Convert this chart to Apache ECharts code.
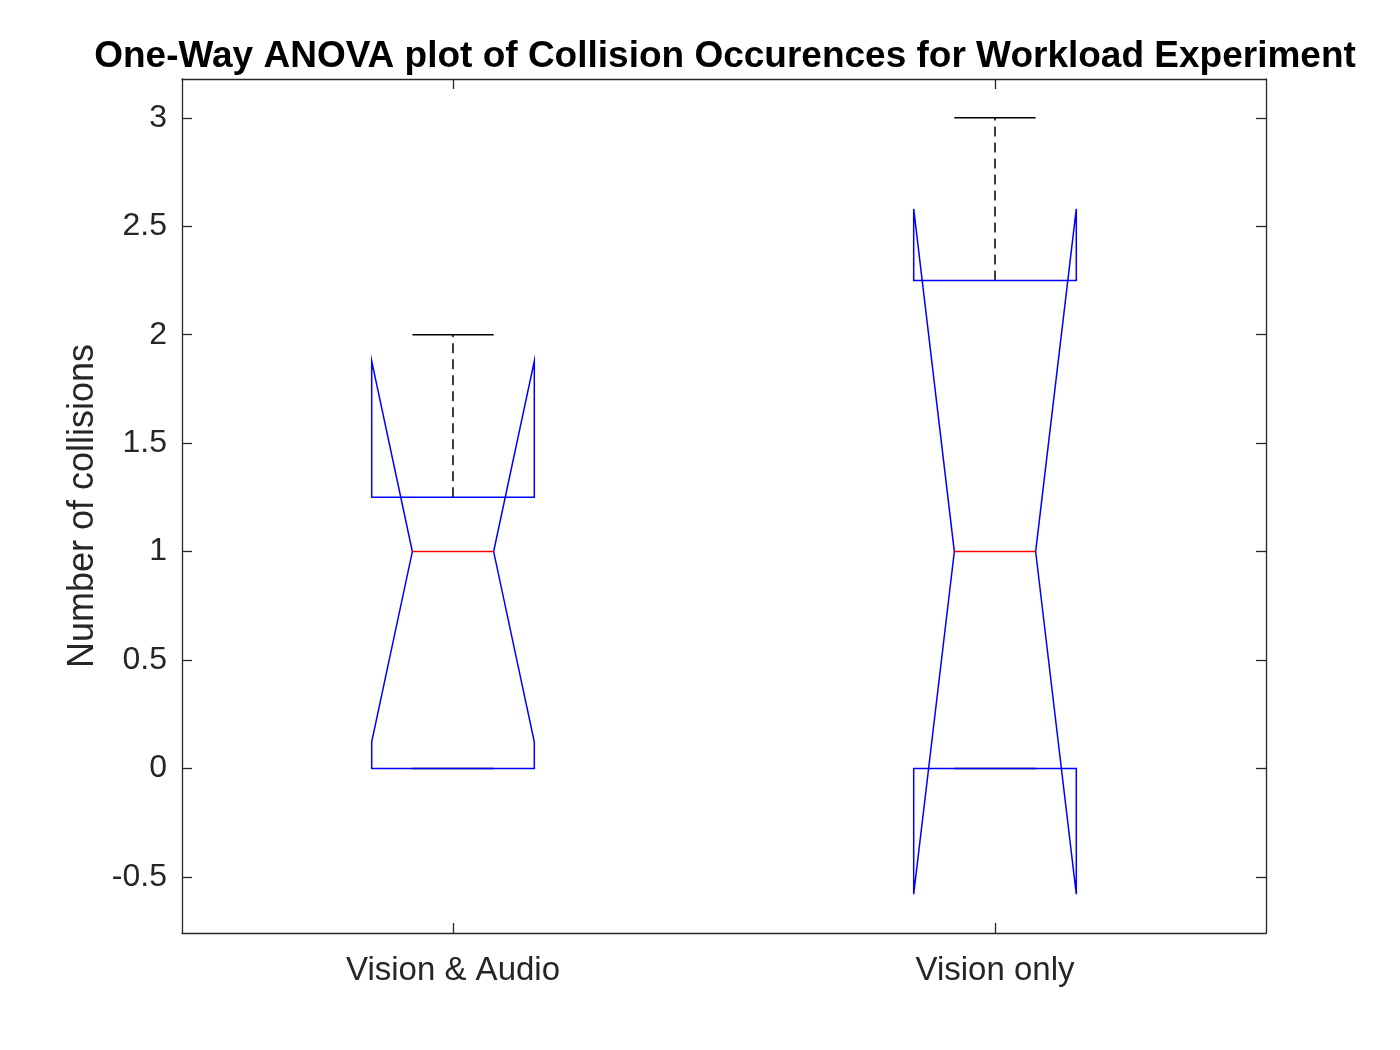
<!DOCTYPE html>
<html>
<head>
<meta charset="utf-8">
<script src="https://cdn.jsdelivr.net/npm/echarts@6/dist/echarts.min.js"></script>
<style>html,body{margin:0;padding:0;background:#fff}#c{width:1400px;height:1050px}</style>
</head>
<body>
<div id="c"></div>
<script>
// ---- data ----
const categories   = ['Vision & Audio', 'Vision only'];
const lowerWhisker = [0, 0];
const q1           = [0, 0];
const median       = [1, 1];
const q3           = [1.25, 2.25];
const upperWhisker = [2, 3];
const notchLow     = [0.122, -0.58];
const notchHigh    = [1.878, 2.58];
const yTicks       = [-0.5, 0, 0.5, 1, 1.5, 2, 2.5, 3];
const yMin = -0.759, yMax = 3.179;

const FONT = '"Liberation Sans", Arial, Helvetica, sans-serif';
const TXT = '#262626';

const boxData = categories.map((c, i) => [i, lowerWhisker[i], q1[i], median[i], q3[i], upperWhisker[i], notchLow[i], notchHigh[i]]);

function renderBox(params, api) {
  const idx = api.value(0);
  const lw = api.value(1), b1 = api.value(2), md = api.value(3), b3 = api.value(4), uw = api.value(5), nl = api.value(6), nh = api.value(7);
  const band = api.size([1, 0])[0];
  const w = band * 0.15;
  const cx = api.coord([idx, md])[0];
  const y = v => api.coord([idx, v])[1];
  const blue = '#0000ff';
  const lw1 = 1.5;
  const children = [
    // whiskers (dashed)
    {type: 'line', shape: {x1: cx, y1: y(b3), x2: cx, y2: y(uw)}, style: {stroke: '#000', lineWidth: lw1, lineDash: [10, 6]}},
    {type: 'line', shape: {x1: cx, y1: y(b1), x2: cx, y2: y(lw)}, style: {stroke: '#000', lineWidth: lw1, lineDash: [10, 6]}},
    // caps
    {type: 'line', shape: {x1: cx - w / 2, y1: y(uw), x2: cx + w / 2, y2: y(uw)}, style: {stroke: '#000', lineWidth: lw1}},
    {type: 'line', shape: {x1: cx - w / 2, y1: y(lw), x2: cx + w / 2, y2: y(lw)}, style: {stroke: '#000', lineWidth: lw1}},
    // notched box
    {type: 'polygon', shape: {points: [
      [cx - w, y(b1)], [cx - w, y(nl)], [cx - w / 2, y(md)], [cx - w, y(nh)], [cx - w, y(b3)],
      [cx + w, y(b3)], [cx + w, y(nh)], [cx + w / 2, y(md)], [cx + w, y(nl)], [cx + w, y(b1)]
    ]}, style: {fill: 'none', stroke: blue, lineWidth: lw1, lineJoin: 'miter'}},
    // median
    {type: 'line', shape: {x1: cx - w / 2, y1: y(md), x2: cx + w / 2, y2: y(md)}, style: {stroke: '#ff0000', lineWidth: lw1}}
  ];
  return {type: 'group', children};
}

const chart = echarts.init(document.getElementById('c'), null, {renderer: 'canvas'});
chart.setOption({
  animation: false,
  backgroundColor: '#fff',
  title: {
    text: 'One-Way ANOVA plot of Collision Occurences for Workload Experiment',
    left: 720, top: 33, textAlign: 'center',
    textStyle: {fontFamily: FONT, fontSize: 37, fontWeight: 'bold', color: '#000'}
  },
  grid: {left: 182, right: 134, top: 79, bottom: 117, containLabel: false, outerBoundsMode: 'none'},
  xAxis: [
    {
      type: 'category', data: categories, boundaryGap: true, position: 'bottom',
      axisLine: {show: true, onZero: false, lineStyle: {color: TXT, width: 1.3}},
      axisTick: {show: true, inside: true, alignWithLabel: true, length: 10, lineStyle: {color: TXT, width: 1.3}},
      axisLabel: {color: TXT, fontSize: 33, fontFamily: FONT, margin: 21},
      splitLine: {show: false}
    },
    {
      type: 'category', data: categories, boundaryGap: true, position: 'top',
      axisLine: {show: true, onZero: false, lineStyle: {color: TXT, width: 1.3}},
      axisTick: {show: true, inside: true, alignWithLabel: true, length: 10, lineStyle: {color: TXT, width: 1.3}},
      axisLabel: {show: false},
      splitLine: {show: false}
    }
  ],
  yAxis: [
    {
      type: 'value', min: yMin, max: yMax, position: 'left',
      name: 'Number of collisions', nameLocation: 'middle', nameGap: 80, nameRotate: 90,
      nameTextStyle: {color: TXT, fontSize: 36, fontFamily: FONT},
      axisLine: {show: true, onZero: false, lineStyle: {color: TXT, width: 1.3}},
      axisTick: {show: true, inside: true, length: 10, customValues: yTicks, lineStyle: {color: TXT, width: 1.3}},
      axisLabel: {color: TXT, fontSize: 32, fontFamily: FONT, margin: 15, customValues: yTicks},
      splitLine: {show: false}
    },
    {
      type: 'value', min: yMin, max: yMax, position: 'right',
      axisLine: {show: true, onZero: false, lineStyle: {color: TXT, width: 1.3}},
      axisTick: {show: true, inside: true, length: 10, customValues: yTicks, lineStyle: {color: TXT, width: 1.3}},
      axisLabel: {show: false},
      splitLine: {show: false}
    }
  ],
  series: [{
    type: 'custom',
    xAxisIndex: 0, yAxisIndex: 0,
    renderItem: renderBox,
    dimensions: ['idx', 'lw', 'q1', 'med', 'q3', 'uw', 'nl', 'nh'],
    encode: {x: 0, y: [1, 2, 3, 4, 5, 6, 7]},
    data: boxData,
    clip: false,
    silent: true
  }]
});
</script>
</body>
</html>
